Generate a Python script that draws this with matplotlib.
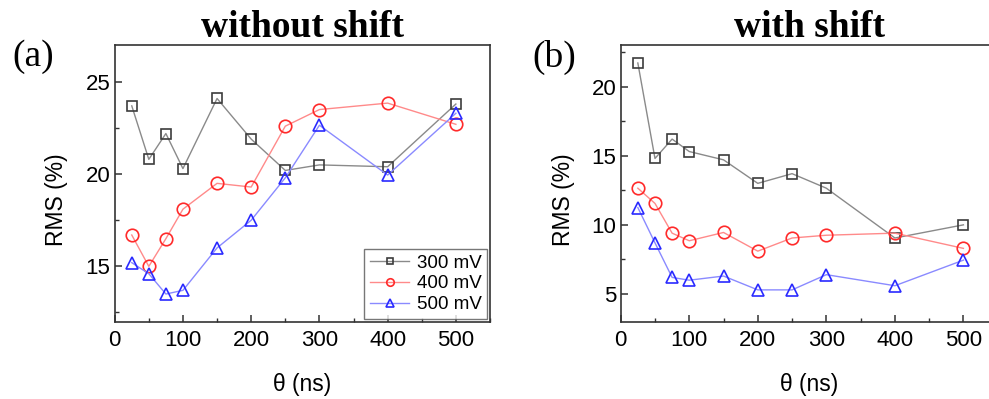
import numpy as np
import matplotlib.pyplot as plt
from matplotlib.ticker import MultipleLocator

theta = [25, 50, 75, 100, 150, 200, 250, 300, 400, 500]

# (a) without shift
a_300 = [23.7, 20.8, 22.2, 20.3, 24.1, 21.9, 20.2, 20.5, 20.4, 23.8]
a_400 = [16.7, 15.0, 16.5, 18.1, 19.5, 19.3, 22.6, 23.5, 23.85, 22.7]
a_500 = [15.2, 14.6, 13.5, 13.7, 16.0, 17.5, 19.8, 22.65, 19.95, 23.3]

# (b) with shift
b_300 = [21.7, 14.8, 16.2, 15.3, 14.7, 13.0, 13.7, 12.65, 9.05, 10.0]
b_400 = [12.65, 11.55, 9.4, 8.85, 9.45, 8.1, 9.05, 9.25, 9.4, 8.3]
b_500 = [11.25, 8.7, 6.2, 6.0, 6.3, 5.3, 5.3, 6.4, 5.6, 7.45]

labels = ["300 mV", "400 mV", "500 mV"]
styles = [
    {"marker": "s", "color": "#8a8a8a", "mec": "#3c3c3c", "ms": 7.5},
    {"marker": "o", "color": "#ff8a8a", "mec": "#ff2a2a", "ms": 9},
    {"marker": "^", "color": "#8a8aff", "mec": "#2a2aff", "ms": 9},
]

plt.rcParams["font.family"] = ["Liberation Sans", "DejaVu Sans"]
serif = ["Liberation Serif", "DejaVu Serif"]

fig = plt.figure(figsize=(9.89, 3.99), dpi=100)
W, H = 989.0, 399.0
ax1 = fig.add_axes([114.7 / W, 1 - 321.7 / H, 375.3 / W, 276.7 / H])
ax2 = fig.add_axes([620.7 / W, 1 - 321.7 / H, 377.0 / W, 276.7 / H])

def draw(ax, series, ylim, ymaj, title):
    for ys, lab, st in zip(series, labels, styles):
        ax.plot(theta, ys, color=st["color"], lw=1.0, marker=st["marker"],
                ms=st["ms"], mfc="none", mec=st["mec"], mew=1.2, label=lab)
    ax.set_xlim(0, 550)
    ax.set_ylim(*ylim)
    ax.xaxis.set_major_locator(MultipleLocator(100))
    ax.xaxis.set_minor_locator(MultipleLocator(50))
    ax.yaxis.set_major_locator(MultipleLocator(ymaj))
    ax.yaxis.set_minor_locator(MultipleLocator(ymaj / 2))
    ax.tick_params(which="both", direction="in", top=False, right=False,
                   labelsize=16, color="#333333")
    ax.tick_params(axis="x", pad=6)
    ax.tick_params(axis="y", pad=3)
    ax.tick_params(which="major", length=5, width=1.1)
    ax.tick_params(which="minor", length=3, width=1.0)
    for s in ax.spines.values():
        s.set_color("#333333")
        s.set_linewidth(1.2)
    ax.set_xlabel("θ (ns)", fontsize=16.5)
    ax.set_ylabel("RMS (%)", fontsize=16.5)
    ax.xaxis.set_label_coords(0.5, -0.185)
    ax.set_title(title, fontsize=27, fontweight="bold", family=serif, pad=4)

draw(ax1, [a_300, a_400, a_500], (12, 27), 5, "without shift")
draw(ax2, [b_300, b_400, b_500], (3, 23), 5, "with shift")
ax1.yaxis.set_label_coords(-0.124, 0.44)
ax2.yaxis.set_label_coords(-0.121, 0.44)

leg = ax1.legend(loc="lower right", fontsize=13.5, markerscale=0.6,
                 frameon=True, fancybox=False, edgecolor="#555555",
                 handlelength=2.1, handletextpad=0.4, labelspacing=0.2,
                 borderpad=0.3, borderaxespad=0.15)
leg.get_frame().set_linewidth(1.0)

fig.text(12 / W, 1 - 57 / H, "(a)", fontsize=27, va="center", ha="left",
         family=serif)
fig.text(532 / W, 1 - 57 / H, "(b)", fontsize=27, va="center", ha="left",
         family=serif)

fig.savefig("out.png", dpi=100)
